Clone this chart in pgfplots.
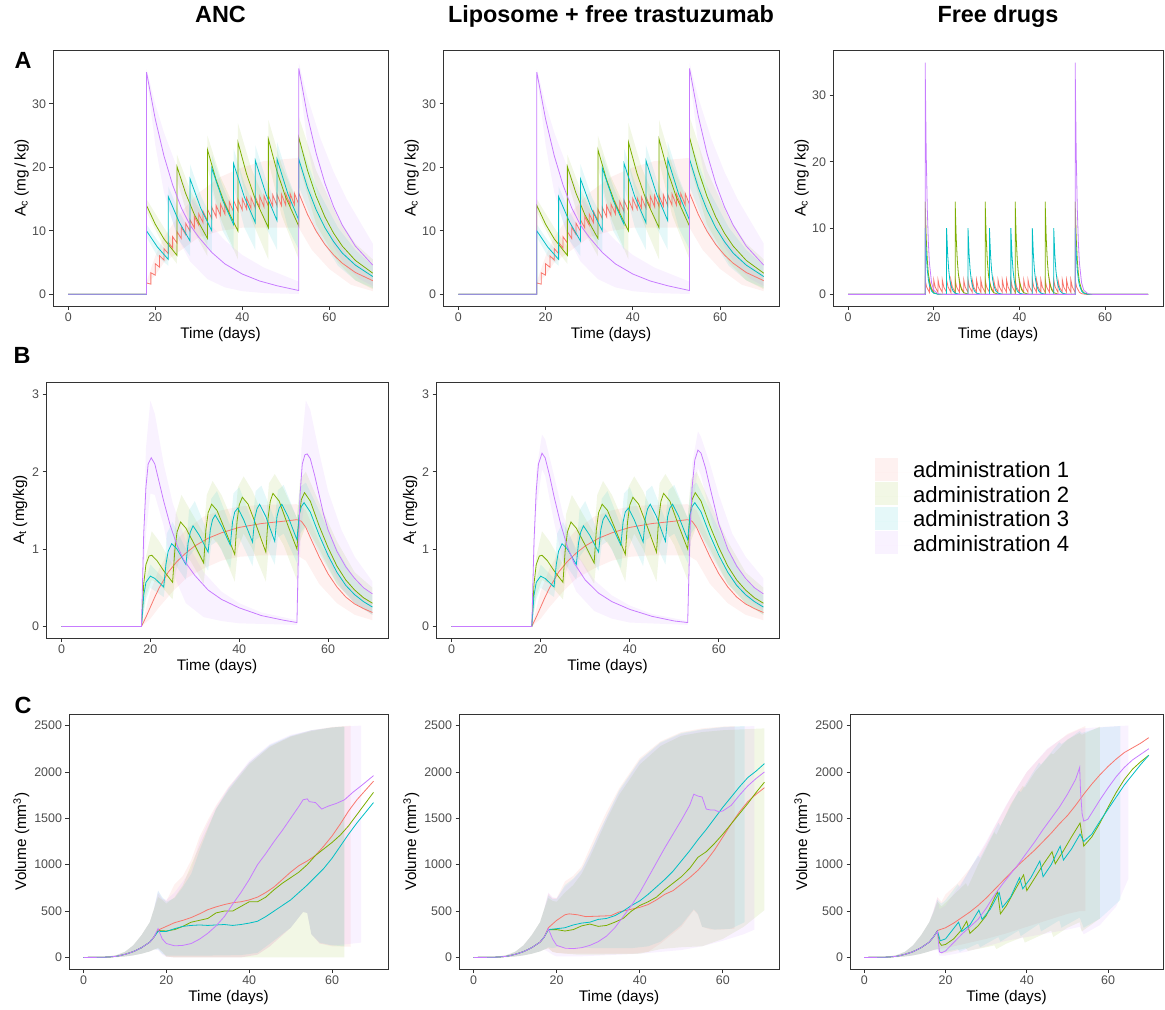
\documentclass[border=0pt]{standalone}
\usepackage{fontspec}
\setmainfont{Liberation Sans}
\usepackage{pgfplots}
\usepackage{pgfplotstable}
\pgfplotsset{compat=1.18}
\definecolor{cR}{HTML}{F8766D}
\definecolor{cG}{HTML}{7CAE00}
\definecolor{cC}{HTML}{00BFC4}
\definecolor{cP}{HTML}{C77CFF}
\definecolor{axgray}{HTML}{333333}
\definecolor{tickgray}{HTML}{4D4D4D}
\pgfplotsset{
  panel/.style={
    scale only axis, anchor=north west, clip=true,
    xmin=-3.5, xmax=73.5, xtick={0,20,40,60},
    tick pos=left, tick align=outside, major tick length=3.5bp,
    axis line style={axgray, line width=0.9bp},
    tick style={axgray, line width=0.9bp},
    tick label style={font=\fontsize{12.5}{14}\selectfont, text=tickgray},
    /pgf/number format/assume math mode=true,
    /pgf/number format/1000 sep={},
    scaled ticks=false,
    label style={font=\fontsize{15.4}{17}\selectfont},
    xlabel={Time (days)},
    xlabel style={at={([yshift=-32.3bp]axis description cs:0.5,0)}, anchor=base},
    title style={font=\bfseries\fontsize{23.5}{26}\selectfont, at={([yshift=21.7bp]axis description cs:0.5,1)}, anchor=base},
  },
  ylab/.style={ylabel style={at={([xshift=-#1]axis description cs:0,0.5)}, anchor=base}},
  ln/.style={#1, line width=0.8bp},
}
\newcommand{\rib}[2]{\addplot[fill=#2, fill opacity=0.1, draw=none, forget plot] table {#1};}
% ---------------- Row A ----------------
\pgfplotstableread[row sep=\\]{t y\\0 0\\18 0\\18 1.80\\19 1.60\\19 3.40\\20 3.02\\20 4.82\\21 4.28\\21 6.08\\22 5.40\\22 7.21\\23 6.41\\23 8.20\\24 7.29\\24 9.09\\25 8.08\\25 9.88\\26 8.78\\26 10.58\\27 9.40\\27 11.20\\28 9.95\\28 11.75\\29 10.44\\29 12.25\\30 10.89\\30 12.68\\31 11.27\\31 13.07\\32 11.62\\32 13.42\\33 11.93\\33 13.72\\34 12.19\\34 13.99\\35 12.43\\35 14.24\\36 12.66\\36 14.45\\37 12.84\\37 14.64\\38 13.01\\38 14.81\\39 13.16\\39 14.96\\40 13.30\\40 15.10\\41 13.42\\41 15.22\\42 13.53\\42 15.32\\43 13.61\\43 15.42\\44 13.70\\44 15.50\\45 13.77\\45 15.57\\46 13.84\\46 15.64\\47 13.90\\47 15.70\\48 13.95\\48 15.75\\49 14.00\\49 15.80\\50 14.04\\50 15.84\\51 14.08\\51 15.88\\52 14.11\\52 15.91\\53 14.14\\53 15.94\\55 12.59\\57 9.94\\59 7.85\\61 6.20\\63 4.90\\66 3.44\\70 2.15\\}\ARed
\pgfplotstableread[row sep=\\]{t y\\0 0\\18 0\\18 14\\20 11.06\\22 8.73\\25 6.13\\25 20.13\\27 15.90\\29 12.56\\32 8.81\\32 22.81\\34 18.02\\36 14.23\\39 9.99\\39 23.99\\41 18.95\\43 14.97\\46 10.50\\46 24.50\\48 19.35\\50 15.28\\53 10.73\\53 24.73\\55 19.53\\57 15.43\\59 12.19\\61 9.63\\63 7.60\\66 5.34\\70 3.33\\}\AGrn
\pgfplotstableread[row sep=\\]{t y\\0 0\\18 0\\18 10\\20.5 7.45\\23 5.5\\23 15.4\\25.5 11.4\\28 8.4\\28 18.2\\30.5 13.5\\33 10.0\\33 19.9\\35.5 14.8\\38 11.0\\38 20.6\\40.5 15.3\\43 11.3\\43 21.1\\45.5 15.7\\48 11.6\\48 21.3\\50.5 15.8\\53 11.7\\53 21.3\\55 16.8\\57 13.3\\59 10.5\\61 8.3\\63 6.5\\66 4.6\\70 2.8\\}\ACyn
\pgfplotstableread[row sep=\\]{t y\\0 0\\18 0\\18 35\\20 27.64\\22 21.83\\24 17.24\\26 13.62\\28 10.9\\30 9.0\\33 6.6\\36 4.8\\40 3.2\\44 2.1\\48 1.35\\53 0.6\\53 35.6\\55 28.1\\57 22.2\\59 17.5\\61 13.8\\63 10.9\\66 7.6\\70 4.6\\}\APur
\pgfplotstableread[row sep=\\]{t y\\18 2\\20 6\\22 9\\26 13\\30 16\\35 18.5\\40 20\\45 21\\53 21.5\\56 16\\60 10\\65 5.5\\70 3\\70 0.5\\65 1.5\\60 4\\56 7\\53 10.5\\45 10.5\\40 10.5\\35 10\\30 9\\26 7\\22 5\\20 3\\18 1.6\\}\ARp
\pgfplotstableread[row sep=\\]{t y\\18 15\\22 10.5\\25 7.5\\25 22\\28 16.5\\32 11\\32 25\\35 18.5\\39 12.5\\39 27\\42 20\\46 13.5\\46 27.5\\49 20.5\\53 13.8\\53 28\\57 19.5\\62 12\\66 8\\70 5.5\\70 0.8\\66 2.2\\62 5\\57 11\\53 20.5\\53 5.5\\49 12.5\\46 21\\46 5.5\\42 12\\39 20.5\\39 5.5\\35 12\\32 20\\32 6\\28 11\\25 18\\25 4.8\\22 7.5\\18 13\\}\AGp
\pgfplotstableread[row sep=\\]{t y\\18 11\\20.5 8.5\\23 6.5\\23 17\\25.5 13\\28 10\\28 20.5\\30.5 15.5\\33 12\\33 22\\35.5 17\\38 13\\38 23\\40.5 17.5\\43 13.5\\43 23.5\\45.5 18\\48 14\\48 24\\50.5 18.5\\53 14\\53 24.5\\57 17\\62 10.5\\66 7\\70 4.5\\70 1\\66 2.2\\62 4.5\\57 10\\53 17\\53 7\\50.5 10.5\\48 17\\48 7\\45.5 10.5\\43 17\\43 7\\40.5 10.5\\38 17\\38 7\\35.5 10\\33 16.5\\33 6.5\\30.5 9.5\\28 15.5\\28 6\\25.5 8.5\\23 13.5\\23 4.5\\20.5 6\\18 9\\}\ACp
\pgfplotstableread[row sep=\\]{t y\\18 35.5\\20 30\\22 25.5\\25 20\\28 15.5\\32 11.5\\36 8.5\\40 6.2\\45 4.2\\53 2\\53 36.5\\55 31\\58 24.5\\61 19.3\\64 15\\67 11.5\\70 8\\70 1.3\\67 2.4\\64 4.2\\61 7.5\\58 13.3\\55 23.6\\53 34.5\\53 0.05\\45 0.2\\40 0.5\\36 1.1\\32 2.4\\28 5.2\\25 9.1\\22 16.1\\20 23.6\\18 34.5\\}\APp
% free drugs
\pgfplotstableread[row sep=\\]{t y\\0 0\\18 0\\18 2.2\\18.35 1.1\\19 0.3\\19 2.2\\19.35 1.1\\20 0.3\\20 2.2\\20.35 1.1\\21 0.3\\21 2.2\\21.35 1.1\\22 0.3\\22 2.2\\22.35 1.1\\23 0.3\\23 2.2\\23.35 1.1\\24 0.3\\24 2.2\\24.35 1.1\\25 0.3\\25 2.2\\25.35 1.1\\26 0.3\\26 2.2\\26.35 1.1\\27 0.3\\27 2.2\\27.35 1.1\\28 0.3\\28 2.2\\28.35 1.1\\29 0.3\\29 2.2\\29.35 1.1\\30 0.3\\30 2.2\\30.35 1.1\\31 0.3\\31 2.2\\31.35 1.1\\32 0.3\\32 2.2\\32.35 1.1\\33 0.3\\33 2.2\\33.35 1.1\\34 0.3\\34 2.2\\34.35 1.1\\35 0.3\\35 2.2\\35.35 1.1\\36 0.3\\36 2.2\\36.35 1.1\\37 0.3\\37 2.2\\37.35 1.1\\38 0.3\\38 2.2\\38.35 1.1\\39 0.3\\39 2.2\\39.35 1.1\\40 0.3\\40 2.2\\40.35 1.1\\41 0.3\\41 2.2\\41.35 1.1\\42 0.3\\42 2.2\\42.35 1.1\\43 0.3\\43 2.2\\43.35 1.1\\44 0.3\\44 2.2\\44.35 1.1\\45 0.3\\45 2.2\\45.35 1.1\\46 0.3\\46 2.2\\46.35 1.1\\47 0.3\\47 2.2\\47.35 1.1\\48 0.3\\48 2.2\\48.35 1.1\\49 0.3\\49 2.2\\49.35 1.1\\50 0.3\\50 2.2\\50.35 1.1\\51 0.3\\51 2.2\\51.35 1.1\\52 0.3\\52 2.2\\52.35 1.1\\53 0.3\\53 2.2\\53.35 1.1\\54 0.3\\54.5 0.1\\55.5 0\\70 0\\}\FRed
\pgfplotstableread[row sep=\\]{t y\\0 0\\18 0\\18 14\\18.25 8.5\\18.5 5.15\\18.75 3.12\\19 1.89\\19.5 0.7\\20 0.25\\21 0.03\\25 0\\25 14\\25.25 8.5\\25.5 5.15\\25.75 3.12\\26 1.89\\26.5 0.7\\27 0.25\\28 0.03\\32 0\\32 14\\32.25 8.5\\32.5 5.15\\32.75 3.12\\33 1.89\\33.5 0.7\\34 0.25\\35 0.03\\39 0\\39 14\\39.25 8.5\\39.5 5.15\\39.75 3.12\\40 1.89\\40.5 0.7\\41 0.25\\42 0.03\\46 0\\46 14\\46.25 8.5\\46.5 5.15\\46.75 3.12\\47 1.89\\47.5 0.7\\48 0.25\\49 0.03\\53 0\\53 14\\53.25 8.5\\53.5 5.15\\53.75 3.12\\54 1.89\\54.5 0.7\\55 0.25\\56 0.03\\70 0\\}\FGrn
\pgfplotstableread[row sep=\\]{t y\\0 0\\18 0\\18 10\\18.25 6.07\\18.5 3.68\\18.75 2.23\\19 1.35\\19.5 0.5\\20 0.18\\21 0.02\\23 0\\23 10\\23.25 6.07\\23.5 3.68\\23.75 2.23\\24 1.35\\24.5 0.5\\25 0.18\\26 0.02\\28 0\\28 10\\28.25 6.07\\28.5 3.68\\28.75 2.23\\29 1.35\\29.5 0.5\\30 0.18\\31 0.02\\33 0\\33 10\\33.25 6.07\\33.5 3.68\\33.75 2.23\\34 1.35\\34.5 0.5\\35 0.18\\36 0.02\\38 0\\38 10\\38.25 6.07\\38.5 3.68\\38.75 2.23\\39 1.35\\39.5 0.5\\40 0.18\\41 0.02\\43 0\\43 10\\43.25 6.07\\43.5 3.68\\43.75 2.23\\44 1.35\\44.5 0.5\\45 0.18\\46 0.02\\48 0\\48 10\\48.25 6.07\\48.5 3.68\\48.75 2.23\\49 1.35\\49.5 0.5\\50 0.18\\51 0.02\\53 0\\53 10\\53.25 6.07\\53.5 3.68\\53.75 2.23\\54 1.35\\54.5 0.5\\55 0.18\\56 0.02\\70 0\\}\FCyn
\pgfplotstableread[row sep=\\]{t y\\0 0\\18 0\\18 35\\18.25 21.2\\18.5 12.9\\18.75 7.8\\19 4.7\\19.5 1.75\\20 0.63\\21 0.09\\22 0\\53 0\\53 35\\53.25 21.2\\53.5 12.9\\53.75 7.8\\54 4.7\\54.5 1.75\\55 0.63\\56 0.09\\57 0\\70 0\\}\FPur
% ---------------- Row B ----------------
\pgfplotstableread[row sep=\\]{t y\\0 0\\18 0\\19 0.12\\20 0.25\\21 0.38\\22 0.5\\23 0.6\\24 0.7\\25 0.77\\26 0.84\\28 0.95\\30 1.04\\33 1.14\\36 1.21\\40 1.28\\45 1.33\\50 1.36\\53 1.38\\54 1.36\\55 1.28\\56 1.15\\58 0.9\\60 0.68\\62 0.51\\64 0.38\\66 0.29\\68 0.23\\70 0.18\\}\BRed
\pgfplotstableread[row sep=\\]{t y\\0 0\\18 0\\18.5 0.55\\19 0.8\\19.7 0.91\\20.3 0.92\\21.5 0.85\\23 0.72\\25 0.57\\25.5 0.98\\26 1.22\\26.8 1.35\\28 1.27\\30 1.05\\32 0.82\\32.5 1.25\\33 1.47\\33.8 1.58\\35 1.5\\37 1.22\\39 0.93\\39.5 1.35\\40 1.57\\40.7 1.67\\42 1.58\\44 1.28\\46 0.96\\46.5 1.4\\47 1.62\\47.6 1.72\\49 1.62\\51 1.3\\53 1.0\\53.5 1.42\\54 1.64\\54.7 1.73\\56 1.62\\58 1.3\\60 1.02\\62 0.78\\64 0.6\\66 0.47\\68 0.37\\70 0.3\\}\BGrn
\pgfplotstableread[row sep=\\]{t y\\0 0\\18 0\\18.5 0.4\\19 0.57\\20 0.65\\21 0.62\\23 0.51\\23.5 0.8\\24 0.97\\24.8 1.07\\26 1.0\\28 0.8\\28.5 1.08\\29 1.22\\29.6 1.3\\31 1.18\\33 0.96\\33.5 1.25\\34 1.38\\34.6 1.44\\36 1.3\\38 1.05\\38.5 1.35\\39 1.48\\39.7 1.53\\41 1.38\\43 1.09\\43.5 1.4\\44 1.52\\44.6 1.58\\46 1.42\\48 1.1\\48.5 1.42\\49 1.53\\49.6 1.58\\51 1.42\\53 1.12\\53.5 1.44\\54 1.55\\54.6 1.6\\56 1.48\\58 1.18\\60 0.92\\62 0.7\\64 0.53\\66 0.41\\68 0.32\\70 0.25\\}\BCyn
\pgfplotstableread[row sep=\\]{t y\\0 0\\18 0\\18.5 1.2\\19 1.8\\19.5 2.1\\20.2 2.18\\21 2.1\\21.5 1.98\\23 1.62\\24.5 1.3\\26 1.05\\27.5 0.86\\30 0.66\\33 0.47\\36 0.35\\40 0.24\\45 0.14\\50 0.08\\53 0.05\\53.3 0.9\\53.7 1.7\\54.2 2.1\\54.8 2.22\\55.3 2.23\\56 2.17\\57 1.95\\58 1.7\\59 1.45\\60 1.25\\62 0.97\\64 0.77\\66 0.62\\68 0.5\\70 0.42\\}\BPur
\pgfplotstableread[row sep=\\]{t y\\0 0\\18 0\\18.5 1.1\\19 1.75\\19.5 2.1\\20.3 2.24\\21 2.18\\22 1.95\\23 1.68\\24.5 1.32\\26 1.03\\27.5 0.82\\30 0.6\\33 0.43\\36 0.32\\40 0.22\\45 0.13\\50 0.07\\53 0.05\\53.5 1.2\\54 1.8\\54.6 2.15\\55.3 2.28\\56 2.24\\57 2.05\\58 1.8\\60 1.32\\62 1.0\\64 0.78\\66 0.62\\68 0.5\\70 0.42\\}\BPurB
\pgfplotstableread[row sep=\\]{t y\\18 0\\20 0.45\\22 0.75\\25 1.05\\28 1.25\\32 1.42\\36 1.5\\40 1.55\\45 1.57\\53 1.58\\55 1.5\\58 1.1\\62 0.7\\66 0.45\\70 0.3\\70 0.08\\66 0.15\\62 0.3\\58 0.55\\55 0.85\\53 0.92\\45 0.92\\40 0.9\\36 0.85\\32 0.75\\28 0.62\\25 0.45\\22 0.25\\20 0.1\\18 0\\}\BRp
\pgfplotstableread[row sep=\\]{t y\\18 0\\19 0.9\\20.3 1.23\\22 1.1\\25 0.8\\25.7 1.45\\27 1.7\\29 1.5\\32 1.2\\32.7 1.7\\34 1.88\\36 1.7\\39 1.3\\39.7 1.8\\41 1.94\\43 1.75\\46 1.35\\46.7 1.85\\48 1.97\\50 1.78\\53 1.4\\53.7 1.9\\55 2.0\\58 1.6\\62 1.1\\66 0.7\\70 0.5\\70 0.15\\66 0.3\\62 0.55\\58 1.0\\55 1.3\\53.7 1.1\\53 0.6\\50 1.05\\48 1.25\\46.7 1.05\\46 0.58\\43 1.0\\41 1.2\\39.7 1.0\\39 0.58\\36 1.0\\34 1.15\\32.7 0.95\\32 0.55\\29 0.85\\27 0.95\\25.7 0.7\\25 0.35\\22 0.55\\20.3 0.6\\19 0.4\\18 0\\}\BGp
\pgfplotstableread[row sep=\\]{t y\\18 0\\19 0.6\\20 0.8\\23 0.62\\23.7 1.2\\25 1.35\\28 1.0\\28.7 1.5\\30 1.62\\33 1.2\\33.7 1.65\\35 1.75\\38 1.3\\38.7 1.72\\40 1.8\\43 1.35\\43.7 1.75\\45 1.82\\48 1.38\\48.7 1.76\\50 1.83\\53 1.4\\53.7 1.8\\55 1.86\\58 1.5\\62 1.0\\66 0.6\\70 0.4\\70 0.15\\66 0.3\\62 0.55\\58 0.95\\55 1.3\\53.7 1.2\\53 0.82\\50 1.2\\48.7 1.15\\48 0.8\\45 1.17\\43.7 1.12\\43 0.78\\40 1.15\\38.7 1.1\\38 0.75\\35 1.1\\33.7 1.05\\33 0.72\\30 1.0\\28.7 0.9\\28 0.6\\25 0.85\\23.7 0.7\\23 0.38\\20 0.5\\19 0.35\\18 0\\}\BCp
\pgfplotstableread[row sep=\\]{t y\\18 0\\19 2.3\\20 2.92\\21 2.75\\23 2.1\\25 1.6\\28 1.1\\32 0.7\\36 0.45\\40 0.3\\45 0.18\\53 0.08\\54 2.3\\55 2.92\\56 2.8\\58 2.25\\60 1.75\\63 1.25\\66 0.9\\70 0.58\\70 0.15\\66 0.3\\63 0.5\\60 0.85\\58 1.2\\56 1.65\\55 1.72\\54 1.3\\53 0.02\\40 0.04\\36 0.07\\32 0.12\\28 0.3\\25 0.7\\23 1.3\\21 1.7\\20 1.72\\19 1.2\\18 0\\}\BPp
\pgfplotstableread[row sep=\\]{t y\\18 0\\19 2.0\\20.3 2.48\\21 2.42\\23 1.95\\25 1.45\\28 0.95\\32 0.6\\36 0.4\\40 0.27\\45 0.16\\53 0.07\\54 2.1\\55.3 2.52\\56 2.45\\58 2.1\\60 1.7\\63 1.2\\66 0.9\\70 0.62\\70 0.2\\66 0.38\\63 0.6\\60 1.0\\58 1.45\\56 1.95\\55.3 2.05\\54 1.5\\53 0.02\\40 0.05\\36 0.1\\32 0.2\\28 0.45\\25 0.85\\23 1.35\\21 1.95\\20.3 2.03\\19 1.5\\18 0\\}\BPpB
% ---------------- Row C ----------------
\pgfplotstableread[row sep=\\]{t y\\0 0\\4 1\\6 4\\8 12\\10 33\\12 62\\14 105\\16 165\\17 220\\18 295\\20 335\\22 375\\24 400\\26 430\\28 470\\30 515\\32 545\\34 570\\36 590\\38 600\\40 620\\42 650\\44 700\\46 760\\48 840\\50 920\\52 990\\54 1040\\56 1100\\58 1200\\60 1310\\62 1440\\64 1580\\66 1700\\68 1800\\70 1900\\}\CaRed
\pgfplotstableread[row sep=\\]{t y\\0 0\\4 1\\6 4\\8 12\\10 33\\12 62\\14 105\\16 165\\17 220\\18 290\\20 285\\22 300\\24 335\\26 380\\28 400\\30 420\\32 480\\34 500\\36 500\\38 550\\40 600\\42 600\\44 650\\46 730\\48 800\\50 860\\52 920\\54 1000\\56 1100\\58 1170\\60 1240\\62 1320\\64 1420\\66 1540\\68 1660\\70 1780\\}\CaGrn
\pgfplotstableread[row sep=\\]{t y\\0 0\\4 1\\6 4\\8 12\\10 33\\12 62\\14 105\\16 165\\17 220\\18 280\\20 280\\22 310\\24 335\\26 345\\28 350\\30 345\\32 350\\34 355\\36 345\\38 355\\40 370\\42 390\\44 440\\46 500\\48 560\\50 620\\52 700\\54 780\\56 870\\58 960\\60 1070\\62 1200\\64 1330\\66 1450\\68 1560\\70 1670\\}\CaCyn
\pgfplotstableread[row sep=\\]{t y\\0 0\\4 1\\6 4\\8 12\\10 33\\12 62\\14 105\\16 165\\17 220\\18 310\\19 200\\20 150\\22 125\\24 130\\26 150\\28 197\\30 260\\32 340\\34 440\\36 574\\38 700\\40 840\\42 1000\\44 1120\\46 1250\\48 1370\\50 1500\\52 1630\\53 1700\\54 1710\\54.5 1680\\56 1670\\57.5 1600\\59 1630\\61 1660\\63 1700\\65 1780\\67 1850\\70 1960\\}\CaPur
\pgfplotstableread[row sep=\\]{t y\\0 0\\4 1\\6 4\\8 12\\10 33\\12 62\\14 105\\16 165\\17 220\\18 320\\20 400\\22 460\\23 470\\25 460\\27 440\\30 445\\33 450\\35 490\\37 510\\40 540\\42 570\\44 620\\46 680\\48 720\\50 790\\52 860\\54 940\\56 1040\\58 1160\\60 1300\\62 1440\\64 1570\\66 1680\\68 1760\\70 1830\\}\CbRed
\pgfplotstableread[row sep=\\]{t y\\0 0\\4 1\\6 4\\8 12\\10 33\\12 62\\14 105\\16 165\\17 220\\18 300\\20 300\\22 285\\24 300\\26 340\\28 360\\30 335\\32 345\\34 380\\36 420\\38 500\\40 560\\42 600\\44 650\\46 730\\48 800\\50 870\\52 960\\54 1080\\56 1140\\58 1230\\60 1330\\62 1440\\64 1550\\66 1660\\68 1780\\70 1890\\}\CbGrn
\pgfplotstableread[row sep=\\]{t y\\0 0\\4 1\\6 4\\8 12\\10 33\\12 62\\14 105\\16 165\\17 220\\18 300\\20 310\\22 320\\24 350\\26 370\\28 380\\30 410\\32 420\\34 450\\36 500\\38 560\\40 610\\42 680\\44 760\\46 840\\48 930\\50 1040\\52 1150\\54 1270\\56 1380\\58 1500\\60 1620\\62 1730\\64 1840\\66 1940\\68 2010\\70 2090\\}\CbCyn
\pgfplotstableread[row sep=\\]{t y\\0 0\\4 1\\6 4\\8 12\\10 33\\12 62\\14 105\\16 165\\17 220\\18 310\\19 200\\20 130\\22 100\\24 95\\26 105\\28 130\\30 170\\32 230\\34 320\\36 440\\38 560\\40 700\\42 860\\44 1020\\46 1180\\48 1330\\50 1480\\52 1640\\53 1760\\54 1740\\55 1730\\56 1600\\57 1590\\58 1590\\59 1570\\60 1580\\62 1640\\64 1750\\66 1850\\68 1930\\70 2000\\}\CbPur
\pgfplotstableread[row sep=\\]{t y\\0 0\\4 1\\6 4\\8 12\\10 33\\12 62\\14 105\\16 165\\17 220\\18 290\\20 320\\22 370\\24 430\\26 490\\28 560\\30 640\\32 730\\34 820\\36 910\\38 1000\\40 1080\\42 1160\\44 1250\\46 1340\\48 1440\\50 1530\\52 1640\\54 1760\\56 1870\\58 1970\\60 2060\\62 2140\\64 2210\\66 2260\\68 2310\\70 2370\\}\CcRed
\pgfplotstableread[row sep=\\]{t y\\0 0\\4 1\\6 4\\8 12\\10 33\\12 62\\14 105\\16 165\\17 220\\18 280\\18.5 160\\19 130\\20 140\\22 200\\24 300\\25.2 390\\26 260\\28 340\\30 450\\32.8 710\\33.5 470\\35 560\\37 720\\39.2 890\\40 720\\42 860\\44 1000\\46.2 1140\\47 1010\\49 1150\\51 1300\\53.1 1450\\54 1200\\56 1300\\58 1450\\60 1620\\62 1780\\64 1920\\66 2030\\68 2110\\70 2180\\}\CcGrn
\pgfplotstableread[row sep=\\]{t y\\0 0\\4 1\\6 4\\8 12\\10 33\\12 62\\14 105\\16 165\\17 220\\18 285\\18.7 180\\20 200\\23.2 380\\24 280\\26 350\\28.2 510\\29 410\\31 520\\33.2 700\\34 540\\36 650\\38.2 860\\39 740\\41 860\\43.2 1040\\44 870\\46 1000\\48.2 1200\\49 1050\\51 1170\\53.1 1330\\54 1250\\56 1330\\58 1470\\60 1600\\62 1730\\64 1860\\66 1970\\68 2080\\70 2180\\}\CcCyn
\pgfplotstableread[row sep=\\]{t y\\0 0\\4 1\\6 4\\8 12\\10 33\\12 62\\14 105\\16 165\\17 220\\18 280\\18.5 60\\19 50\\20 70\\22 160\\24 250\\26 330\\28 410\\30 530\\32 670\\34 790\\36 900\\38 1010\\40 1130\\42 1250\\44 1380\\46 1500\\48 1620\\50 1760\\52 1920\\53 2050\\53.2 1800\\53.6 1550\\54 1470\\55 1490\\56 1560\\58 1700\\60 1830\\62 1950\\64 2050\\66 2130\\68 2190\\70 2250\\}\CcPur
% C ribbons (closed polygons: upper, then lower reversed)
\pgfplotstableread[row sep=\\]{t y\\0 0\\5 3\\8 25\\10 60\\12 130\\14 240\\16 380\\17 520\\18 690\\19 630\\20 610\\22 790\\24 880\\26 1050\\28 1300\\30 1480\\32 1640\\35 1840\\40 2100\\45 2280\\50 2385\\55 2450\\60 2485\\64.5 2500\\64.5 115\\60 120\\57 150\\55 250\\54 480\\53 490\\50 320\\45 120\\42 30\\38 0\\22 0\\20 10\\19 60\\18 105\\17 85\\16 65\\14 40\\12 22\\10 10\\8 3\\0 0\\}\CaRp
\pgfplotstableread[row sep=\\]{t y\\0 0\\5 3\\8 25\\10 60\\12 130\\14 240\\16 380\\17 520\\18 650\\19 620\\20 580\\22 650\\24 780\\26 1000\\28 1200\\30 1400\\32 1600\\35 1800\\40 2080\\45 2270\\50 2380\\55 2440\\60 2480\\63 2490\\63 0\\22 0\\20 10\\19 60\\18 100\\17 85\\16 65\\14 40\\12 22\\10 10\\8 3\\0 0\\}\CaGp
\pgfplotstableread[row sep=\\]{t y\\0 0\\5 3\\8 25\\10 60\\12 130\\14 240\\16 380\\17 520\\18 720\\19 650\\20 600\\22 640\\24 760\\26 900\\28 1150\\30 1380\\32 1600\\35 1820\\40 2100\\45 2290\\50 2390\\55 2450\\60 2480\\63 2490\\63 120\\60 130\\57 160\\55 250\\54 480\\53 490\\50 320\\45 150\\42 50\\38 25\\30 20\\20 20\\19 40\\18 90\\17 85\\16 65\\14 40\\12 22\\10 10\\8 3\\0 0\\}\CaCp
\pgfplotstableread[row sep=\\]{t y\\0 0\\5 3\\8 25\\10 60\\12 130\\14 240\\16 380\\17 520\\18 720\\19 640\\20 620\\22 700\\24 820\\26 950\\28 1250\\30 1450\\32 1620\\35 1830\\40 2120\\45 2300\\50 2400\\55 2450\\60 2480\\63 2490\\67 2500\\67 160\\63 140\\60 130\\57 150\\55 250\\54 480\\53 490\\50 320\\45 120\\42 30\\38 0\\22 0\\20 5\\19 30\\18 80\\17 85\\16 65\\14 40\\12 22\\10 10\\8 3\\0 0\\}\CaPp
\pgfplotstableread[row sep=\\]{t y\\0 0\\5 3\\8 25\\10 60\\12 130\\14 240\\16 380\\17 520\\18 690\\19 640\\20 640\\22 820\\24 880\\26 980\\28 1180\\30 1380\\32 1570\\35 1820\\40 2150\\45 2330\\50 2430\\55 2470\\60 2490\\62.8 2495\\62.8 310\\60 300\\57 300\\55 330\\54 460\\53 510\\50 330\\45 150\\42 60\\38 40\\22 40\\20 50\\19 60\\18 100\\17 85\\16 65\\14 40\\12 22\\10 10\\8 3\\0 0\\}\CbRp
\pgfplotstableread[row sep=\\]{t y\\0 0\\5 3\\8 25\\10 60\\12 130\\14 240\\16 380\\17 520\\18 640\\19 610\\20 600\\22 700\\24 780\\26 900\\28 1080\\30 1280\\32 1480\\35 1750\\40 2080\\45 2280\\50 2390\\55 2430\\60 2450\\65 2460\\70 2470\\70 510\\65 330\\60 200\\55 120\\50 110\\45 90\\40 40\\30 30\\25 30\\20 50\\19 60\\18 100\\17 85\\16 65\\14 40\\12 22\\10 10\\8 3\\0 0\\}\CbGp
\pgfplotstableread[row sep=\\]{t y\\0 0\\5 3\\8 25\\10 60\\12 130\\14 240\\16 380\\17 520\\18 670\\19 630\\20 630\\22 780\\24 850\\26 950\\28 1130\\30 1330\\32 1520\\35 1800\\40 2130\\45 2320\\50 2420\\55 2460\\60 2485\\65.2 2495\\65.2 380\\62 310\\58 300\\55 330\\54 470\\53 520\\50 350\\45 170\\42 120\\38 100\\30 100\\20 110\\19 100\\18 110\\17 85\\16 65\\14 40\\12 22\\10 10\\8 3\\0 0\\}\CbCp
\pgfplotstableread[row sep=\\]{t y\\0 0\\5 3\\8 25\\10 60\\12 130\\14 240\\16 380\\17 520\\18 700\\19 650\\20 640\\22 760\\24 840\\26 940\\28 1120\\30 1320\\32 1510\\35 1780\\40 2120\\45 2310\\50 2410\\55 2455\\60 2480\\67.6 2495\\67.6 300\\65 250\\60 180\\55 120\\50 80\\40 40\\30 20\\25 10\\20 10\\19 30\\18 60\\17 85\\16 65\\14 40\\12 22\\10 10\\8 3\\0 0\\}\CbPp
\pgfplotstableread[row sep=\\]{t y\\0 0\\5 3\\8 25\\10 60\\12 130\\14 240\\16 380\\17 500\\18 650\\19 600\\20 680\\23 800\\26 960\\28 1080\\30 1230\\32 1400\\34 1560\\36 1720\\40 2000\\45 2240\\50 2410\\54.4 2495\\54.4 500\\53 500\\50 470\\45 400\\40 330\\35 260\\30 200\\25 150\\20 100\\18 90\\17 80\\16 65\\14 40\\12 22\\10 10\\8 3\\0 0\\}\CcRp
\pgfplotstableread[row sep=\\]{t y\\0 0\\5 3\\8 25\\10 60\\12 130\\14 240\\16 380\\17 480\\18 600\\19 550\\20 590\\25 800\\25.5 760\\28 1000\\32 1350\\32.5 1320\\36 1650\\39 1850\\39.5 1830\\42 2000\\46 2200\\46.5 2190\\50 2350\\53 2420\\53.5 2400\\58 2490\\58 420\\53.5 280\\53 380\\50 320\\46.5 220\\46 290\\43 230\\39.5 160\\39 220\\35 150\\32.5 90\\32 130\\30 110\\25.5 70\\25 100\\20 45\\19 40\\18 90\\17 80\\16 65\\14 40\\12 22\\10 10\\8 3\\0 0\\}\CcGp
\pgfplotstableread[row sep=\\]{t y\\0 0\\5 3\\8 25\\10 60\\12 130\\14 240\\16 380\\17 490\\18 620\\19 580\\20 620\\23 790\\23.5 760\\28 1100\\28.5 1070\\33 1450\\33.5 1420\\38 1800\\38.5 1780\\43 2100\\43.5 2080\\48 2320\\48.5 2300\\53 2440\\53.5 2420\\58 2480\\63 2495\\63 620\\58 420\\54 320\\53 430\\48.5 320\\48 400\\43.5 280\\43 360\\38.5 230\\38 290\\33.5 170\\33 220\\28.5 110\\28 150\\23.5 60\\23 90\\19 50\\18 90\\17 80\\16 65\\14 40\\12 22\\10 10\\8 3\\0 0\\}\CcCp
\pgfplotstableread[row sep=\\]{t y\\0 0\\5 3\\8 25\\10 60\\12 130\\14 240\\16 380\\17 500\\18 650\\18.5 520\\20 560\\25 880\\30 1250\\35 1650\\40 2000\\45 2250\\50 2400\\53 2460\\54 2470\\60 2490\\65 2500\\65 850\\62 550\\58 350\\54 250\\53 330\\50 300\\45 260\\40 220\\35 180\\30 120\\25 60\\20 20\\18.5 20\\18 80\\17 75\\16 65\\14 40\\12 22\\10 10\\8 3\\0 0\\}\CcPp
\begin{document}
\begin{tikzpicture}
\useasboundingbox (0,0) rectangle (1165bp,-1010bp);
% ===== A1 =====
\begin{axis}[panel, at={(53bp,-50bp)}, width=335bp, height=256bp, ymin=-1.84, ymax=38.5, ytick={0,10,20,30},
  ylabel={A\textsubscript{c} (mg\,/\,kg)}, ylab=27.5bp, title={ANC}]
\rib{\ARp}{cR}\rib{\AGp}{cG}\rib{\ACp}{cC}\rib{\APp}{cP}
\addplot[ln=cR] table {\ARed};
\addplot[ln=cG] table {\AGrn};
\addplot[ln=cC] table {\ACyn};
\addplot[ln=cP] table {\APur};
\end{axis}
% ===== A2 =====
\begin{axis}[panel, at={(443bp,-50bp)}, width=336bp, height=256bp, ymin=-1.84, ymax=38.5, ytick={0,10,20,30},
  ylabel={A\textsubscript{c} (mg\,/\,kg)}, ylab=27.5bp, title={Liposome + free trastuzumab}]
\rib{\ARp}{cR}\rib{\AGp}{cG}\rib{\ACp}{cC}\rib{\APp}{cP}
\addplot[ln=cR] table {\ARed};
\addplot[ln=cG] table {\AGrn};
\addplot[ln=cC] table {\ACyn};
\addplot[ln=cP] table {\APur};
\end{axis}
% ===== A3 =====
\begin{axis}[panel, at={(833bp,-50bp)}, width=330bp, height=256bp, ymin=-1.76, ymax=36.9, ytick={0,10,20,30},
  ylabel={A\textsubscript{c} (mg\,/\,kg)}, ylab=27.5bp, title={Free drugs}]
\addplot[ln=cR] table {\FRed};
\addplot[ln=cG] table {\FGrn};
\addplot[ln=cC] table {\FCyn};
\addplot[ln=cP] table {\FPur};
\end{axis}
% ===== B1 =====
\begin{axis}[panel, at={(46bp,-382bp)}, width=342bp, height=256bp, ymin=-0.15, ymax=3.16, ytick={0,1,2,3},
  ylabel={A\textsubscript{t} (mg/kg)}, ylab=22bp]
\rib{\BRp}{cR}\rib{\BGp}{cG}\rib{\BCp}{cC}\rib{\BPp}{cP}
\addplot[ln=cR] table {\BRed};
\addplot[ln=cG] table {\BGrn};
\addplot[ln=cC] table {\BCyn};
\addplot[ln=cP] table {\BPur};
\end{axis}
% ===== B2 (with legend) =====
\begin{axis}[panel, at={(436bp,-382bp)}, width=343bp, height=256bp, ymin=-0.15, ymax=3.16, ytick={0,1,2,3},
  ylabel={A\textsubscript{t} (mg/kg)}, ylab=22bp,
  legend style={at={(1.280,0.705)}, anchor=north west, draw=none, fill=none, inner sep=0pt, outer sep=0pt,
    font=\fontsize{22.2}{24}\selectfont, row sep=0.2bp,
    nodes={inner sep=0pt, text height=15.5bp, text depth=4.3bp}},
  legend image code/.code={\path[#1] (0bp,-8.5bp) rectangle (23bp,14.5bp); \path (0bp,0bp) -- (38bp,0bp);}]
\addlegendimage{fill=cR, fill opacity=0.1, draw=none}\addlegendentry{administration 1}
\addlegendimage{fill=cG, fill opacity=0.1, draw=none}\addlegendentry{administration 2}
\addlegendimage{fill=cC, fill opacity=0.1, draw=none}\addlegendentry{administration 3}
\addlegendimage{fill=cP, fill opacity=0.1, draw=none}\addlegendentry{administration 4}
\rib{\BRp}{cR}\rib{\BGp}{cG}\rib{\BCp}{cC}\rib{\BPpB}{cP}
\addplot[ln=cR, forget plot] table {\BRed};
\addplot[ln=cG, forget plot] table {\BGrn};
\addplot[ln=cC, forget plot] table {\BCyn};
\addplot[ln=cP, forget plot] table {\BPurB};
\end{axis}
% ===== C1 =====
\begin{axis}[panel, at={(69bp,-714bp)}, width=319bp, height=255bp, ymin=-125, ymax=2625, ytick={0,500,1000,1500,2000,2500},
  ylabel={Volume (mm\textsuperscript{3})}, ylab=43bp]
\rib{\CaRp}{cR}\rib{\CaGp}{cG}\rib{\CaCp}{cC}\rib{\CaPp}{cP}
\addplot[ln=cR] table {\CaRed};
\addplot[ln=cG] table {\CaGrn};
\addplot[ln=cC] table {\CaCyn};
\addplot[ln=cP] table {\CaPur};
\end{axis}
% ===== C2 =====
\begin{axis}[panel, at={(459bp,-714bp)}, width=320bp, height=255bp, ymin=-125, ymax=2625, ytick={0,500,1000,1500,2000,2500},
  ylabel={Volume (mm\textsuperscript{3})}, ylab=43bp]
\rib{\CbRp}{cR}\rib{\CbGp}{cG}\rib{\CbCp}{cC}\rib{\CbPp}{cP}
\addplot[ln=cR] table {\CbRed};
\addplot[ln=cG] table {\CbGrn};
\addplot[ln=cC] table {\CbCyn};
\addplot[ln=cP] table {\CbPur};
\end{axis}
% ===== C3 =====
\begin{axis}[panel, at={(850bp,-714bp)}, width=313bp, height=255bp, ymin=-125, ymax=2625, ytick={0,500,1000,1500,2000,2500},
  ylabel={Volume (mm\textsuperscript{3})}, ylab=43bp]
\rib{\CcRp}{cR}\rib{\CcGp}{cG}\rib{\CcCp}{cC}\rib{\CcPp}{cP}
\addplot[ln=cR] table {\CcRed};
\addplot[ln=cG] table {\CcGrn};
\addplot[ln=cC] table {\CcCyn};
\addplot[ln=cP] table {\CcPur};
\end{axis}
% row labels
\node[font=\bfseries\fontsize{23.5}{26}\selectfont, anchor=base] at (23bp,-68.3bp) {A};
\node[font=\bfseries\fontsize{23.5}{26}\selectfont, anchor=base] at (22bp,-363.4bp) {B};
\node[font=\bfseries\fontsize{23.5}{26}\selectfont, anchor=base] at (23bp,-713.3bp) {C};
\end{tikzpicture}
\end{document}
